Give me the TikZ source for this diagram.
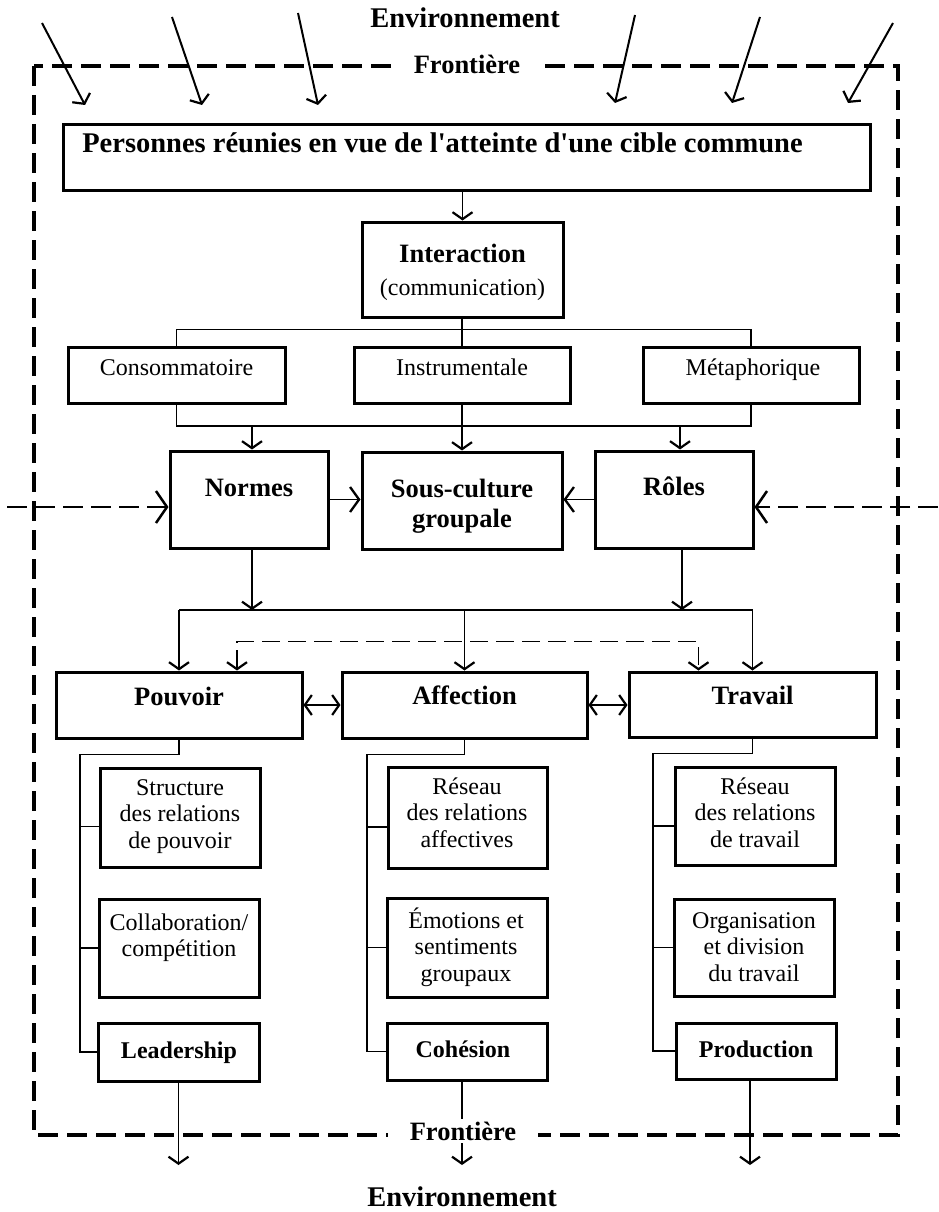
\documentclass[tikz,border=0pt]{standalone}
\usepackage{fontspec}
\setmainfont{Liberation Serif}
\usetikzlibrary{arrows.meta}

% centred stack of lines whose baseline is the first line
\newcommand\stackedtext[1]{\begin{tabular}[t]{@{}c@{}}#1\end{tabular}}
% rectangle node from its corners: name, x1, y1, x2, y2
\newcommand\boxnode[5]{\node[box, minimum width={#4-#2}, minimum height={#5-#3}] (#1) at ({(#2+#4)/2},{(#3+#5)/2}) {};}

\tikzset{
  barb/.tip={Straight Barb[length=7pt,width=20pt,line width=2.2pt]},
  sbarb/.tip={Straight Barb[length=9pt,width=25pt,line width=2.3pt]},
  bbarb/.tip={Straight Barb[length=11pt,width=32pt,line width=2.5pt]},
  box/.style={draw, line width=3pt, inner sep=0pt},
  conn/.style={line width=1.6pt},
  inarr/.style={line width=2pt},
  frame/.style={line width=4pt, dash pattern=on 20pt off 9pt},
  mdash/.style={line width=2.4pt, dash pattern=on 20pt off 8pt},
  idash/.style={line width=1.8pt, dash pattern=on 18pt off 8pt},
  lbl/.style={anchor=base, inner sep=0pt},
  fbig/.style={font=\fontsize{28.5}{30}\selectfont\bfseries},
  fmid/.style={font=\fontsize{26.5}{30}\selectfont\bfseries},
  freg/.style={font=\fontsize{24}{26.5}\selectfont},
  fsb/.style={font=\fontsize{24}{26.5}\selectfont\bfseries},
}

\begin{document}
\begin{tikzpicture}[x=1pt,y=-1pt]
\useasboundingbox (0,0) rectangle (938,1212);

% system boundary
\draw[frame] (34,66) rectangle (898,1135);

% boxes
\boxnode{pers}{63}{125}{870}{190}
\boxnode{inter}{362}{222}{563}{317}
\boxnode{cons}{68}{347}{285}{403}
\boxnode{inst}{354}{347}{570}{403}
\boxnode{meta}{643}{347}{859}{403}
\boxnode{normes}{170}{451}{328}{548}
\boxnode{sc}{362}{452}{562}{549}
\boxnode{roles}{595}{451}{753}{548}
\boxnode{pouv}{56}{672}{302}{738}
\boxnode{aff}{342}{672}{587}{738}
\boxnode{trav}{629}{672}{876}{737}
\boxnode{struc}{100}{768}{260}{867}
\boxnode{collab}{99}{899}{259}{997}
\boxnode{lead}{98}{1023}{259}{1081}
\boxnode{resa}{388}{767}{547}{868}
\boxnode{emo}{387}{898}{547}{997}
\boxnode{coh}{387}{1023}{547}{1080}
\boxnode{rest}{675}{767}{835}{865}
\boxnode{orga}{674}{899}{834}{996}
\boxnode{prod}{676}{1023}{836}{1079}

% influences entering from the environment
\coordinate (e1a) at (42,23);   \coordinate (e1b) at (85,105);
\coordinate (e2a) at (172,17);  \coordinate (e2b) at (202,105);
\coordinate (e3a) at (298,13);  \coordinate (e3b) at (318,105);
\coordinate (e4a) at (635,15);  \coordinate (e4b) at (615,103);
\coordinate (e5a) at (760,17);  \coordinate (e5b) at (732,103);
\coordinate (e6a) at (893,23);  \coordinate (e6b) at (848,103);
\foreach \i in {1,...,6}
  \draw[inarr,-barb] (e\i a) -- (e\i b);

% persons -> interaction -> three kinds of interaction
\draw[conn,-barb] (inter.north |- pers.south) -- (inter.north);
\draw[conn] (cons.north) -- ++(0,-16) -| (meta.north);
\draw[conn] (inst.north |- inter.south) -- (inst.north);

% kinds of interaction -> norms, sub-culture, roles
\coordinate (busB) at (0,426);
\draw[conn] (cons.south) -- (cons.south |- busB) -| (meta.south);
\draw[conn,-barb] ([xshift=3pt]normes.north |- busB) -- ([xshift=3pt]normes.north);
\draw[conn,-barb] (inst.south) -- (sc.north);
\draw[conn,-barb] ([xshift=6pt]roles.north |- busB) -- ([xshift=6pt]roles.north);
\draw[conn,-sbarb] (normes.east) -- (sc.west |- normes.east);
\draw[conn,-sbarb] (roles.west) -- (sc.east |- roles.west);

% environment pressure on norms and roles
\coordinate (envL) at (7,507);
\coordinate (envR) at (938,507);
\draw[mdash,-bbarb] (envL) -- (normes.west |- envL);
\draw[mdash,-bbarb] (envR) -- (roles.east |- envR);

% norms and roles -> power, affection, work
\coordinate (busC) at (0,610);
\draw[conn,-barb] ([xshift=3pt]normes.south) -- ([xshift=3pt]normes.south |- busC);
\draw[conn,-barb] ([xshift=8pt]roles.south) -- ([xshift=8pt]roles.south |- busC);
\draw[conn] (pouv.north |- busC) -- (trav.north |- busC);
\draw[conn,-barb] (pouv.north |- busC) -- (pouv.north);
\draw[conn,-barb] (aff.north |- busC) -- (aff.north);
\draw[conn,-barb] (trav.north |- busC) -- (trav.north);
\draw[idash,barb-barb] ([xshift=58pt]pouv.north) -- ++(0,-29) -| ([xshift=-54pt]trav.north);
\draw[conn,barb-barb] (pouv.east) -- (aff.west);
\draw[conn,barb-barb] (aff.east) -- (trav.west |- aff.east);

% sub-trees
\coordinate (spP) at (80,0);
\coordinate (spA) at (367,0);
\coordinate (spT) at (653,0);
\draw[conn] (pouv.south) -- ++(0,15) -| (spP |- lead.west) -- (lead.west);
\draw[conn] ([yshift=-9pt]struc.west) -- ++(-20,0);
\draw[conn] (collab.west) -- (collab.west -| spP);
\draw[conn] (aff.south) -- ++(0,15) -| (spA |- coh.west) -- (coh.west);
\draw[conn] ([yshift=-9.5pt]resa.west) -- ++(-21,0);
\draw[conn] (emo.west) -- (emo.west -| spA);
\draw[conn] (trav.south) -- ++(0,15) -| (spT |- prod.west) -- (prod.west);
\draw[conn] ([yshift=-10pt]rest.west) -- ++(-22,0);
\draw[conn] (orga.west) -- (orga.west -| spT);

% outputs to the environment
\coordinate (outY) at (0,1165);
\draw[conn,-barb] (lead.south) -- (lead.south |- outY);
\draw[conn,-barb] ([xshift=-5pt]coh.south) -- ([xshift=-5pt]coh.south |- outY);
\draw[conn,-barb] ([xshift=-6pt]prod.south) -- ([xshift=-6pt]prod.south |- outY);

% texts
\node[lbl,fbig] (envTop) at (465,28) {Environnement};
\node[lbl,fbig] (envBot) at (462,1206) {Environnement};
\node[lbl,fbig] (pers-t) at (442.5,152) {Personnes réunies en vue de l\textquotesingle atteinte d\textquotesingle une cible commune};
\node[lbl,font=\fontsize{26.5}{33}\selectfont\bfseries] (inter-t) at (462.5,262)
  {\stackedtext{Interaction\\\mdseries\fontsize{24}{33}\selectfont(communication)}};
\node[lbl,freg] (cons-t) at (176.5,375) {Consommatoire};
\node[lbl,freg] (inst-t) at (462,375) {Instrumentale};
\node[lbl,freg] (meta-t) at (753,375) {Métaphorique};
\node[lbl,fmid] (normes-t) at (249,496) {Normes};
\node[lbl,fmid] (sc-t) at (462,497) {\stackedtext{Sous-culture\\groupale}};
\node[lbl,fmid] (roles-t) at (674,495) {Rôles};
\node[lbl,fmid] (pouv-t) at (179,705) {Pouvoir};
\node[lbl,fmid] (aff-t) at (464.5,704) {Affection};
\node[lbl,fmid] (trav-t) at (752.5,704) {Travail};
\node[lbl,freg] (struc-t) at (180,795) {\stackedtext{Structure\\des relations\\de pouvoir}};
\node[lbl,freg] (collab-t) at (179,930) {\stackedtext{Collaboration/\\compétition}};
\node[lbl,fsb] (lead-t) at (179,1058) {Leadership};
\node[lbl,freg] (resa-t) at (467,794) {\stackedtext{Réseau\\des relations\\affectives}};
\node[lbl,freg] (emo-t) at (466,928) {\stackedtext{Émotions et\\sentiments\\groupaux}};
\node[lbl,fsb] (coh-t) at (463,1057) {Cohésion};
\node[lbl,freg] (rest-t) at (755,794) {\stackedtext{Réseau\\des relations\\de travail}};
\node[lbl,freg] (orga-t) at (754,928) {\stackedtext{Organisation\\et division\\du travail}};
\node[lbl,fsb] (prod-t) at (756,1057) {Production};

% boundary labels
\node[anchor=base, fmid, fill=white, inner xsep=20pt, inner ysep=3pt] (frTop) at (467,74) {Frontière};
\node[anchor=base, fmid, fill=white, inner xsep=22pt, inner ysep=3pt] (frBot) at (463,1140) {Frontière};
\end{tikzpicture}
\end{document}
